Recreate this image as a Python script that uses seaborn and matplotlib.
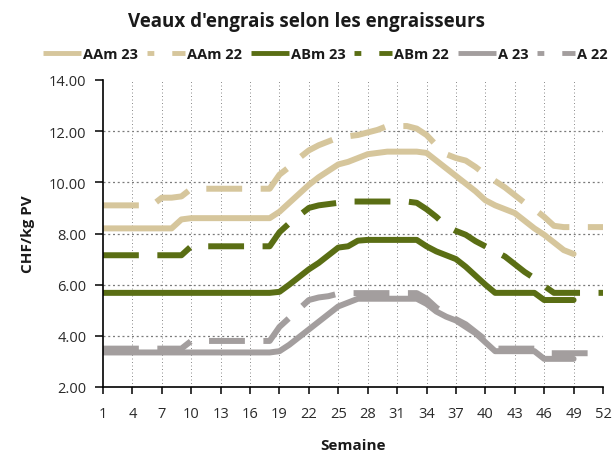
import matplotlib
matplotlib.use("Agg")
import numpy as np
import pandas as pd
import seaborn as sns
import matplotlib.pyplot as plt
from matplotlib.lines import Line2D

# ---------------- data ----------------
weeks = list(range(1, 53))
NA = np.nan

aam_23 = ([8.2] * 8 + [8.55] + [8.6] * 9 +
          [8.85, 9.2, 9.55, 9.9, 10.2, 10.45, 10.7, 10.8, 10.95, 11.1, 11.15,
           11.2, 11.2, 11.2, 11.2, 11.15, 10.85, 10.55, 10.25, 9.95, 9.65, 9.3,
           9.1, 8.95, 8.8, 8.5, 8.2, 7.95, 7.65, 7.35, 7.2] + [NA] * 3)

aam_22 = ([9.1] * 6 + [9.4, 9.4, 9.45] + [9.75] * 9 +
          [10.3, 10.6, 10.95, 11.25, 11.45, 11.6, 11.75, 11.8, 11.85, 11.95,
           12.05, 12.2, 12.2, 12.2, 12.1, 11.85, 11.45, 11.1, 10.95, 10.85, 10.6,
           10.3, 10.05, 9.8, 9.5, 9.2, 8.95, 8.65, 8.3, 8.25, 8.25, 8.25, 8.25,
           8.25])

abm_23 = ([5.68] * 18 +
          [5.72, 6.0, 6.3, 6.6, 6.85, 7.15, 7.45, 7.5, 7.72] + [7.75] * 6 +
          [7.5, 7.3, 7.15, 7.0, 6.7, 6.35, 6.0] + [5.68] * 5 + [5.4] * 4 +
          [NA] * 3)

abm_22 = ([7.15] * 9 + [7.5] * 9 +
          [8.05, 8.4, 8.7, 9.0, 9.1, 9.15, 9.2] + [9.25] * 7 +
          [9.2, 8.95, 8.65, 8.3, 8.1, 7.95, 7.7, 7.5, 7.3, 7.1, 6.8, 6.5, 6.25,
           5.95] + [5.68] * 6)

a_23 = ([3.35] * 18 +
        [3.4, 3.65, 3.95, 4.25, 4.55, 4.85, 5.15, 5.3] + [5.45] * 7 +
        [5.25, 4.95, 4.75, 4.6, 4.35, 4.1, 3.75] + [3.4] * 5 + [3.1] * 4 +
        [NA] * 3)

a_22 = ([3.5] * 9 + [3.8] * 9 +
        [4.35, 4.7, 5.05, 5.4, 5.5, 5.55, 5.65] + [5.67] * 8 +
        [5.45, 5.1, 4.85, 4.65, 4.45, 4.15, 3.85] + [3.5] * 5 + [3.32] * 7)

series_names = ["AAm 23", "AAm 22", "ABm 23", "ABm 22", "A 23", "A 22"]
series_values = [aam_23, aam_22, abm_23, abm_22, a_23, a_22]

y_ticks = [2, 4, 6, 8, 10, 12, 14]
y_tick_labels = ["2.00", "4.00", "6.00", "8.00", "10.00", "12.00", "14.00"]
x_ticks = list(range(1, 53, 3))
x_tick_labels = [str(w) for w in x_ticks]

# ---------------- styling ----------------
c_aam = "#d6c69c"
c_abm = "#5a6e14"
c_a = "#a39e9e"
palette = {"AAm 23": c_aam, "AAm 22": c_aam, "ABm 23": c_abm,
           "ABm 22": c_abm, "A 23": c_a, "A 22": c_a}
dash_long = (6.0, 3.1)
dashes = {"AAm 23": "", "AAm 22": dash_long, "ABm 23": "",
          "ABm 22": dash_long, "A 23": "", "A 22": dash_long}

frames = []
for name, vals in zip(series_names, series_values):
    frames.append(pd.DataFrame({"Semaine": weeks, "value": vals, "series": name}))
df = pd.concat(frames, ignore_index=True)

sns.set_theme(style="white")
plt.rcParams["font.family"] = ["Open Sans", "DejaVu Sans"]

fig = plt.figure(figsize=(6.12, 4.56), dpi=100)
ax = fig.add_axes([103 / 612, 1 - 388 / 456, 500 / 612, 307 / 456])

sns.lineplot(data=df, x="Semaine", y="value", hue="series", style="series",
             hue_order=series_names, style_order=series_names,
             palette=palette, dashes=dashes, linewidth=4.3, legend=False,
             estimator=None, sort=False, ax=ax,
             solid_capstyle="round", dash_capstyle="butt")

ax.set_xlim(1, 52)
ax.set_ylim(2, 14)
ax.set_xticks(x_ticks)
ax.set_xticklabels(x_tick_labels)
ax.set_yticks(y_ticks)
ax.set_yticklabels(y_tick_labels)

ax.grid(False)
for y in y_ticks[1:-1]:
    ax.axhline(y, color="#7a7a7a", lw=0.9, ls=(0, (1.6, 2.2)), zorder=0)
for x in x_ticks[1:]:
    ax.axvline(x, color="#8a8a8a", lw=0.7, ls=(0, (1, 2.6)), zorder=0)

for s in ["top", "right"]:
    ax.spines[s].set_visible(False)
for s in ["left", "bottom"]:
    ax.spines[s].set_color("black")
    ax.spines[s].set_linewidth(1.2)

ax.tick_params(axis="x", which="major", direction="out", length=5,
               width=1.1, color="black", labelsize=10.5, labelcolor="#2a2a2a",
               pad=9, bottom=True)
ax.tick_params(axis="y", which="major", direction="out", length=6,
               width=1.1, color="black", labelsize=10.5, labelcolor="#2a2a2a",
               pad=6, left=True)

ax.set_xlabel("Semaine", fontsize=11, fontweight="bold", color="#1a1a1a",
              labelpad=12)
ax.set_ylabel("CHF/kg PV", fontsize=11, fontweight="bold", color="#1a1a1a",
              labelpad=10)

fig.text(0.5, 1 - 22 / 456, "Veaux d'engrais selon les engraisseurs",
         ha="center", va="center", fontsize=13.5, fontweight="bold",
         color="#1a1a1a")

handles = []
for name in series_names:
    if dashes[name] == "":
        h = Line2D([], [], color=palette[name], lw=3.5, solid_capstyle="butt")
    else:
        h = Line2D([], [], color=palette[name], lw=3.5,
                   linestyle=(3.7, (5.1, 3.7)), dash_capstyle="butt")
    handles.append(h)

fig.legend(handles, series_names, loc="center left",
           bbox_to_anchor=(43 / 612, 1 - 55 / 456), ncol=6, frameon=False,
           prop={"weight": "bold", "size": 10.5}, handlelength=2.6,
           handletextpad=0.15, columnspacing=0.6, borderpad=0,
           borderaxespad=0, labelcolor="#1a1a1a")

fig.savefig("out.png", dpi=100)
